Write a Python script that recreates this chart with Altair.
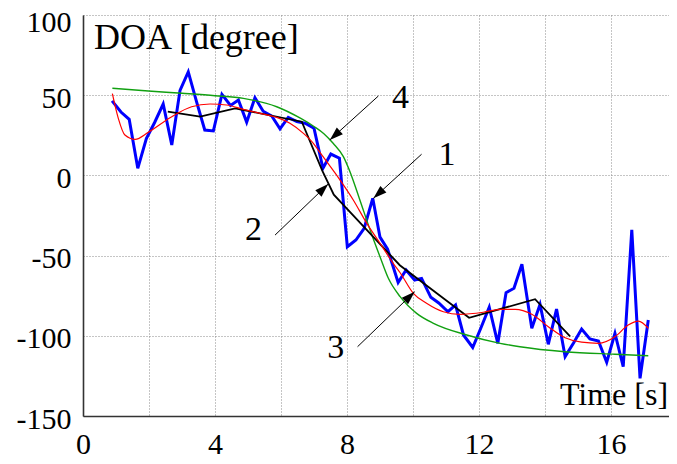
import altair as alt
import pandas as pd

# ---- data ----
blue_t = [0.88, 1.15, 1.40, 1.66, 1.92, 2.17, 2.43, 2.69, 2.94, 3.19, 3.44, 3.69, 3.95,
          4.21, 4.47, 4.71, 4.96, 5.21, 5.46, 5.72, 5.97, 6.22, 6.48, 6.73, 7.00,
          7.27, 7.51, 7.77, 8.01, 8.27, 8.52, 8.78, 9.00, 9.23, 9.55, 9.79, 10.05,
          10.26, 10.54, 10.78, 11.06, 11.29, 11.53, 11.81, 12.06, 12.31, 12.57, 12.82,
          13.06, 13.30, 13.60, 13.85, 14.10, 14.35, 14.61, 14.86, 15.11, 15.36, 15.62,
          15.87, 16.12, 16.37, 16.63, 16.88, 17.13]
blue_doa = [46.5, 39.5, 35.0, 4.4, 23.0, 33.0, 44.5, 19.0, 53.0, 64.5, 46.0, 28.3, 27.7,
            50.5, 43.6, 47.0, 33.2, 48.4, 40.0, 37.0, 29.0, 36.2, 33.5, 32.5, 29.4,
            4.4, 13.3, 10.7, -44.5, -40.3, -33.0, -14.3, -38.5, -46.0, -66.8, -59.0, -65.2,
            -64.2, -76.0, -79.5, -85.0, -80.8, -99.5, -107.3, -95.0, -82.2, -104.7, -73.1,
            -70.4, -55.4, -95.3, -80.4, -105.3, -83.3, -113.0, -104.7, -95.8, -102.0, -103.2,
            -116.5, -98.4, -119.3, -34.0, -126.5, -90.1]

black_t = [2.57, 3.55, 4.61, 6.63, 7.25, 7.60, 9.60, 11.70, 13.70, 14.76]
black_doa = [39.7, 36.6, 41.8, 33.5, 3.0, -12.0, -56.0, -88.8, -77.2, -100.3]

green_t = [0.89, 1.98, 3.00, 4.00, 4.86, 5.87, 6.60, 7.00, 7.30, 7.58, 7.89, 8.09, 8.39,
           8.70, 9.00, 9.25, 9.61, 10.11, 10.62, 11.63, 12.64, 13.24, 14.60, 16.12, 17.13]
green_doa = [54.3, 52.6, 51.2, 49.7, 48.0, 42.8, 35.5, 30.5, 26.0, 20.0, 11.7, 2.3, -15.3,
             -34.0, -50.7, -64.0, -75.6, -86.0, -92.2, -99.5, -104.7, -106.8, -109.9, -111.5, -112.4]

red_t = [0.89, 1.07, 1.27, 1.58, 1.98, 2.69, 3.29, 3.85, 4.35, 4.86, 5.36, 5.87, 6.27,
         6.68, 6.98, 7.18, 7.79, 8.19, 8.60, 9.00, 9.40, 9.61, 10.01, 10.41, 10.92,
         11.42, 12.13, 12.64, 13.10, 13.60, 14.10, 14.61, 15.11, 15.62, 16.12, 16.52,
         16.83, 17.13]
red_doa = [51.0, 35.6, 25.2, 22.5, 26.9, 36.6, 42.8, 44.5, 43.9, 41.2, 38.7, 36.2, 32.5,
           26.2, 20.0, 14.3, -2.9, -15.3, -29.9, -42.3, -54.8, -60.7, -73.5, -79.7, -85.0,
           -86.6, -85.3, -83.5, -83.5, -86.6, -94.3, -101.2, -104.0, -104.7, -100.6, -93.3,
           -90.8, -95.3]

# annotation arrows (data coordinates)
arrow_t0 = [8.95, 10.26, 5.82, 8.32]
arrow_v0 = [49.5, 13.2, -37.2, -106.8]
arrow_t1 = [7.48, 8.80, 7.43, 10.05]
arrow_v1 = [22.1, -14.3, -5.4, -72.5]
arrow_angle = [227.7, 227.7, 46.3, 46.0]

label_text = ["4", "1", "2", "3"]
label_t = [9.62, 11.03, 5.17, 7.66]
label_v = [48.3, 12.9, -34.0, -107.9]

x_ticks = list(range(0, 19, 2))
y_ticks = [-150, -100, -50, 0, 50, 100]

FONT = "'Liberation Serif', 'Times New Roman', Times, serif"

# plot area is 586 px wide at 33 px per second -> visible range ends at 17.76 s
xs = alt.Scale(domain=[0, 586 / 33], nice=False, zero=False)
ys = alt.Scale(domain=[-150, 100], nice=False, zero=False)

X = alt.X("t:Q", scale=xs, title=None,
          axis=alt.Axis(values=x_ticks,
                        labelExpr="datum.value % 4 == 0 ? '' + datum.value : ''",
                        grid=True, gridDash=[1, 2], gridColor="#8a8a8a", gridWidth=1,
                        domainColor="#333333", domainWidth=1.6, ticks=False,
                        labelFont=FONT, labelFontSize=30, labelColor="black",
                        labelPadding=13, labelFlush=False, labelOverlap=False))
Y = alt.Y("doa:Q", scale=ys, title=None,
          axis=alt.Axis(values=y_ticks,
                        labelExpr="'' + datum.value",
                        grid=True, gridDash=[1, 2], gridColor="#8a8a8a", gridWidth=1,
                        domainColor="#333333", domainWidth=1.6, ticks=False,
                        labelFont=FONT, labelFontSize=30, labelColor="black",
                        labelPadding=12, labelFlush=False, labelOverlap=False,
                        labelOffset={"condition": {"test": "datum.value == 100", "value": 7},
                                     "value": 3}))


def series(ts, vs):
    return pd.DataFrame({"t": ts, "doa": vs})


blue = alt.Chart(series(blue_t, blue_doa)).mark_line(
    color="#0000ff", strokeWidth=3, strokeJoin="miter").encode(x=X, y=Y)
green = alt.Chart(series(green_t, green_doa)).mark_line(
    color="#11a011", strokeWidth=1.4, interpolate="monotone").encode(x=X, y=Y)
black = alt.Chart(series(black_t, black_doa)).mark_line(
    color="black", strokeWidth=1.8).encode(x=X, y=Y)
red = alt.Chart(series(red_t, red_doa)).mark_line(
    color="#ff0000", strokeWidth=1.2, interpolate="monotone").encode(x=X, y=Y)

arrows_df = pd.DataFrame({"t": arrow_t0, "doa": arrow_v0,
                          "t2": arrow_t1, "doa2": arrow_v1, "ang": arrow_angle})
arrow_lines = alt.Chart(arrows_df).mark_rule(color="black", strokeWidth=1).encode(
    x=X, y=Y, x2="t2:Q", y2="doa2:Q")
arrow_heads = alt.Chart(arrows_df).mark_point(
    shape="M0,0L-0.45,1.35L0.45,1.35Z", filled=True, color="black",
    opacity=1, size=400, strokeWidth=0).encode(
    x=alt.X("t2:Q", scale=xs), y=alt.Y("doa2:Q", scale=ys),
    angle=alt.Angle("ang:Q", scale=None))

labels_df = pd.DataFrame({"t": label_t, "doa": label_v, "txt": label_text})
num_labels = alt.Chart(labels_df).mark_text(
    font=FONT, fontSize=34, color="black", align="center", baseline="middle").encode(
    x=X, y=Y, text="txt:N")

title_df = pd.DataFrame({"t": [0.33], "doa": [78.6], "txt": ["DOA [degree]"]})
doa_title = alt.Chart(title_df).mark_text(
    font=FONT, fontSize=36, color="black", align="left", baseline="alphabetic").encode(
    x=X, y=Y, text="txt:N")

time_df = pd.DataFrame({"t": [17.73], "doa": [-143.1], "txt": ["Time [s]"]})
time_title = alt.Chart(time_df).mark_text(
    font=FONT, fontSize=32, color="black", align="right", baseline="alphabetic").encode(
    x=X, y=Y, text="txt:N")

chart = alt.layer(
    blue, green, black, red, arrow_lines, arrow_heads, num_labels, doa_title, time_title
).properties(
    width=586, height=401,
    autosize=alt.AutoSizeParams(type="none"),
    padding={"left": 75, "top": 7, "right": 0, "bottom": 40},
    background="white",
).configure_view(stroke=None)

chart.save("out.html", embed_options={"renderer": "svg", "actions": False})
